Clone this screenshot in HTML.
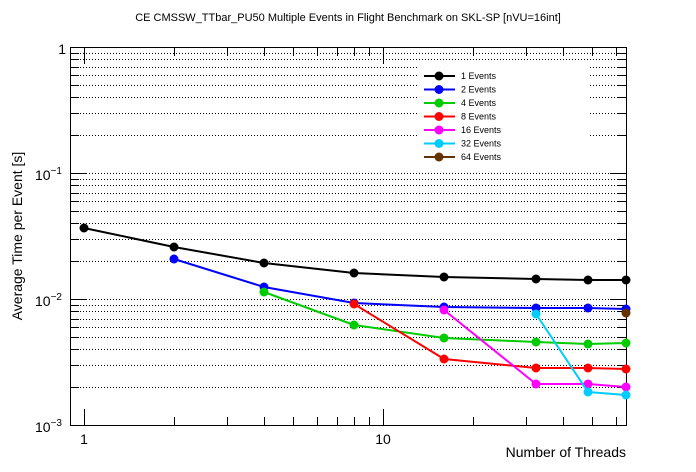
<!DOCTYPE html>
<html><head><style>body{margin:0;background:#fff}svg{display:block;font-family:"Liberation Sans",sans-serif}</style></head>
<body>
<svg width="696" height="472" xmlns="http://www.w3.org/2000/svg">
<rect width="696" height="472" fill="#fff"/>
<g id="grid" stroke="#000" stroke-width="1" stroke-dasharray="1,2"></g>
<g id="ticks" stroke="#000" stroke-width="1"></g>
<rect x="70.5" y="47.5" width="556" height="378" fill="none" stroke="#000"/>
<rect x="418" y="66" width="172" height="100" fill="#fff"/>
<g id="series" stroke-width="2" fill="none"></g>
<g id="legend" font-size="9"></g>
<text x="348" y="21" font-size="11" text-anchor="middle">CE CMSSW_TTbar_PU50 Multiple Events in Flight Benchmark on SKL-SP [nVU=16int]</text>
<text x="626" y="457" font-size="14" text-anchor="end">Number of Threads</text>
<text x="84" y="444" font-size="14" text-anchor="middle">1</text>
<text x="383" y="444" font-size="14" text-anchor="middle">10</text>
<text x="66" y="54" font-size="14" text-anchor="end">1</text>
<text x="62" y="180" font-size="14" text-anchor="end">10<tspan font-size="10" dy="-6">−1</tspan></text>
<text x="62" y="306" font-size="14" text-anchor="end">10<tspan font-size="10" dy="-6">−2</tspan></text>
<text x="62" y="432" font-size="14" text-anchor="end">10<tspan font-size="10" dy="-6">−3</tspan></text>
<text transform="translate(22,236) rotate(-90)" font-size="14" text-anchor="middle">Average Time per Event [s]</text>
</svg>
<script>
const NS="http://www.w3.org/2000/svg";
function el(p,t,a){const e=document.createElementNS(NS,t);for(const k in a)e.setAttribute(k,a[k]);p.appendChild(e);return e;}
const grid=document.getElementById('grid'),ticks=document.getElementById('ticks');
const Y=v=>47-126*Math.log10(v), X=v=>84+299*Math.log10(v);
for(let d=-3;d<=0;d++)for(let m=1;m<=9;m++){const v=m*Math.pow(10,d);if(v>1||(d==-3&&m==1))continue;const y=Math.round(Y(v))+0.5;
 if(y>47.6&&y<425)el(grid,'line',{x1:71,x2:626,y1:y,y2:y});
 el(ticks,'line',{x1:71,x2:m==1?87:79,y1:y,y2:y});el(ticks,'line',{x1:626,x2:m==1?610:618,y1:y,y2:y});}
for(const v of [1,2,3,4,5,6,7,8,9,10,20,30,40,50,60]){const x=Math.round(X(v))+0.5;if(x>626)continue;const L=(v==1||v==10)?16:8;
 el(ticks,'line',{x1:x,x2:x,y1:425,y2:425-L});el(ticks,'line',{x1:x,x2:x,y1:48,y2:48+L});}
const xs={1:84,2:174,4:264,8:354,16:444,32:536,48:588,64:626};
const S=[["#000",[[1,228],[2,247],[4,263],[8,273],[16,277],[32,279],[48,280],[64,280]],"1"],
["#00f",[[2,259],[4,287],[8,303],[16,307],[32,308],[48,308],[64,309]],"2"],
["#0c0",[[4,292],[8,325],[16,338],[32,342],[48,344],[64,343]],"4"],
["#f00",[[8,304],[16,359],[32,368],[48,368],[64,369]],"8"],
["#f0f",[[16,310],[32,384],[48,384],[64,387]],"16"],
["#0cf",[[32,314],[48,392],[64,395]],"32"],
["#630",[[64,313]],"64"]];
const sg=document.getElementById('series'),lg=document.getElementById('legend');
S.forEach((s,i)=>{const pts=s[1].map(p=>xs[p[0]]+","+p[1]).join(" ");
 el(sg,'polyline',{points:pts,stroke:s[0]});
 s[1].forEach(p=>el(sg,'circle',{cx:xs[p[0]],cy:p[1],r:4.5,fill:s[0],stroke:'none'}));
 const y=76+i*13.5;el(lg,'line',{x1:424,x2:455,y1:y,y2:y,stroke:s[0],'stroke-width':2});
 el(lg,'circle',{cx:439,cy:y,r:4.5,fill:s[0]});
 const t=el(lg,'text',{x:461,y:y+3});t.textContent=s[2]+" Events";});
</script>
</body></html>
